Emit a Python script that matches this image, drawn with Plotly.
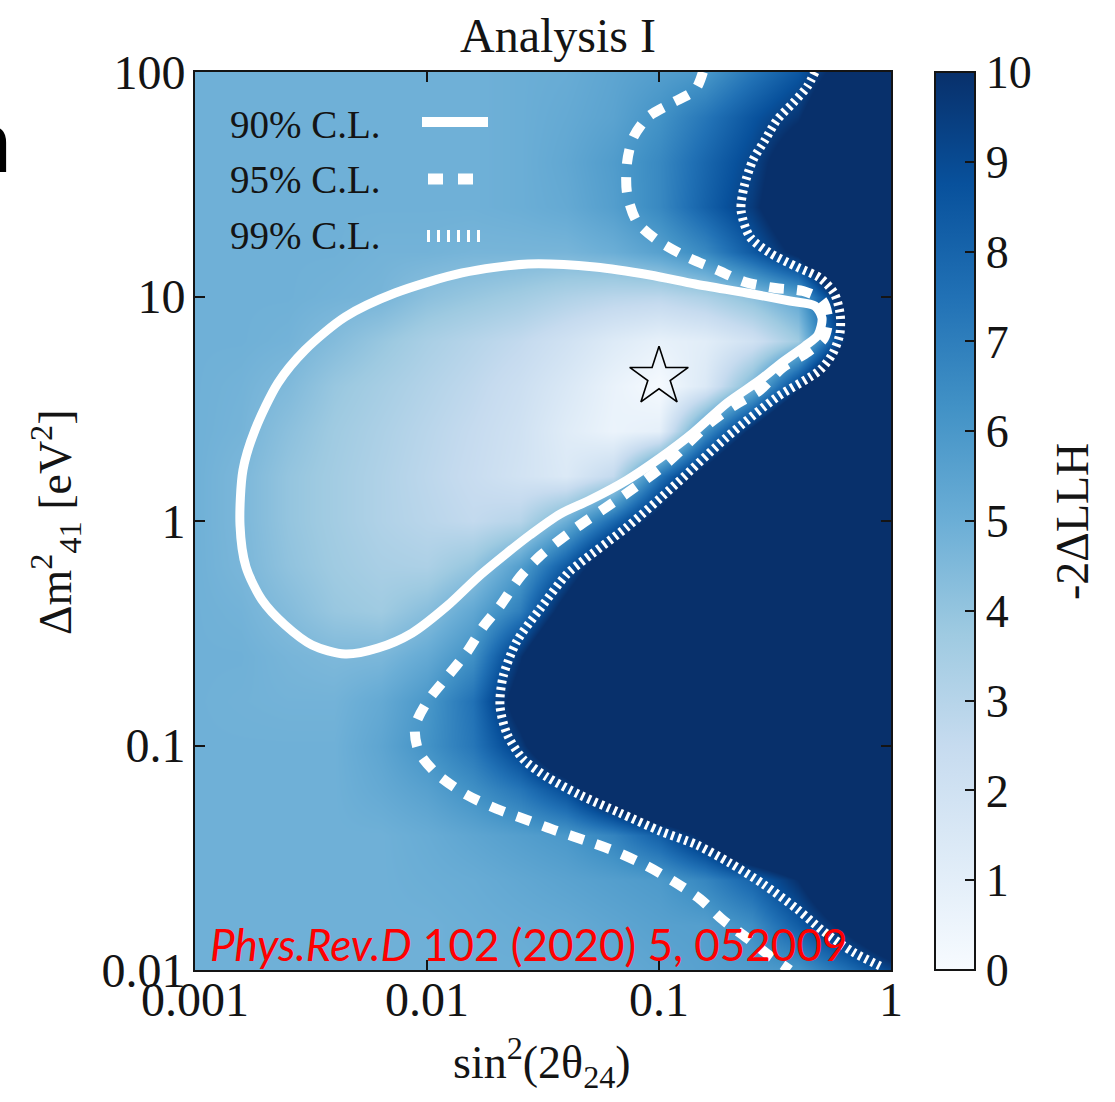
import plotly.graph_objects as go

# ---------------- data ----------------
# grid of the -2ΔLLH map (0.2-decade steps)
sin2_grid = [0.001, 0.001585, 0.002512, 0.003981, 0.00631, 0.01, 0.01585, 0.02512,
             0.03981, 0.0631, 0.1, 0.1585, 0.2512, 0.3981, 0.631, 1.0]
dm2_grid = [100, 63.1, 39.81, 25.12, 15.85, 10, 6.31, 3.981, 2.512, 1.585, 1,
            0.631, 0.3981, 0.2512, 0.1585, 0.1, 0.0631, 0.03981, 0.02512, 0.01585, 0.01]

llh = [
    [4.9, 4.9, 4.9, 4.9, 4.9, 4.9, 4.9, 5.0, 5.1, 5.4, 5.7, 6.0, 7.3, 8.5, 11, 14],
    [4.9, 4.9, 4.9, 4.9, 4.9, 4.9, 4.9, 5.0, 5.2, 5.5, 6.2, 7.3, 8.6, 9.8, 13, 15],
    [4.9, 4.9, 4.9, 4.9, 4.9, 4.9, 4.9, 5.0, 5.3, 5.8, 6.6, 7.9, 9.2, 11.5, 15, 15],
    [4.9, 4.9, 4.9, 4.9, 4.9, 4.9, 4.9, 5.0, 5.2, 5.7, 6.6, 8.1, 9.6, 12, 15, 15],
    [4.9, 4.9, 4.9, 4.9, 4.8, 4.8, 4.7, 4.7, 4.7, 5.0, 5.6, 6.6, 8.4, 10.5, 15, 15],
    [4.9, 4.9, 4.9, 4.8, 4.7, 4.2, 3.9, 3.6, 3.2, 2.9, 2.8, 3.3, 4.2, 5.4, 11, 15],
    [4.9, 4.9, 4.8, 4.4, 3.9, 3.4, 3.0, 2.6, 2.0, 1.3, 0.8, 1.1, 2.0, 3.7, 10, 15],
    [4.9, 4.8, 4.5, 3.9, 3.5, 3.1, 2.7, 2.2, 1.5, 0.7, 0.1, 1.4, 4.7, 9.4, 15, 15],
    [4.9, 4.75, 4.2, 3.7, 3.3, 2.9, 2.5, 2.0, 1.2, 0.6, 0.9, 6.3, 10.5, 15, 15, 15],
    [4.9, 4.6, 4.0, 3.6, 3.2, 2.8, 2.4, 1.9, 1.4, 2.6, 7.3, 11, 15, 15, 15, 15],
    [4.9, 4.6, 4.0, 3.6, 3.2, 2.9, 2.6, 3.0, 5.0, 7.8, 11, 15, 15, 15, 15, 15],
    [4.9, 4.65, 4.1, 3.7, 3.4, 3.3, 4.0, 5.7, 8.4, 12, 15, 15, 15, 15, 15, 15],
    [4.9, 4.8, 4.4, 3.9, 3.7, 4.3, 5.3, 7.0, 11, 15, 15, 15, 15, 15, 15, 15],
    [4.9, 4.9, 4.7, 4.55, 4.6, 5.2, 6.3, 9.8, 14, 15, 15, 15, 15, 15, 15, 15],
    [4.9, 4.85, 4.8, 4.8, 5.2, 6.0, 7.5, 11, 15, 15, 15, 15, 15, 15, 15, 15],
    [4.9, 4.9, 4.9, 4.9, 5.4, 6.2, 7.3, 9.5, 13, 15, 15, 15, 15, 15, 15, 15],
    [4.9, 4.9, 4.9, 4.9, 5.2, 5.6, 6.3, 7.3, 8.9, 12, 15, 15, 15, 15, 15, 15],
    [4.9, 4.9, 4.9, 4.9, 4.9, 5.1, 5.4, 5.7, 6.0, 6.8, 8.2, 10.5, 14, 15, 15, 15],
    [4.9, 4.9, 4.9, 4.9, 4.9, 5.0, 5.1, 5.3, 5.5, 5.7, 5.9, 6.7, 8.0, 10, 13, 15],
    [4.9, 4.9, 4.9, 4.9, 4.9, 4.9, 5.0, 5.1, 5.2, 5.4, 5.6, 5.7, 6.4, 8.3, 10.5, 13],
    [4.9, 4.9, 4.9, 4.9, 4.9, 4.9, 5.0, 5.0, 5.1, 5.2, 5.4, 5.6, 5.8, 6.1, 7.5, 9.2],
]

# 90% C.L. contour (closed)
cl90_sin2 = [0.001563, 0.00161, 0.001814, 0.002279, 0.00298, 0.004432, 0.007279, 0.01416,
             0.02725, 0.05298, 0.09145, 0.1430, 0.2394, 0.3670, 0.4703, 0.5042, 0.4845,
             0.4259, 0.3323, 0.2725, 0.1964, 0.1401, 0.1010, 0.07279, 0.05042, 0.03743,
             0.02780, 0.02213, 0.01659, 0.01220, 0.008616, 0.006150, 0.004432, 0.003194,
             0.002443, 0.001945, 0.001659, 0.001563]
cl90_dm2 = [0.9598, 1.687, 2.543, 4.119, 5.777, 8.103, 10.36, 12.73, 13.96, 13.53, 12.47,
            11.37, 10.36, 9.549, 9.071, 8.020, 6.739, 6.019, 5.004, 4.248, 3.354, 2.466,
            1.909, 1.522, 1.240, 1.074, 0.8662, 0.7204, 0.5630, 0.4182, 0.3170, 0.2719,
            0.2556, 0.2804, 0.3441, 0.4447, 0.6240, 0.9598]

# 95% C.L. contour
cl95_sin2 = [0.1547, 0.1430, 0.1138, 0.08965, 0.07726, 0.07279, 0.07279, 0.08039, 0.09803,
             0.1320, 0.1778, 0.2347, 0.3162, 0.4175, 0.5042, 0.5352, 0.5144, 0.4388, 0.3390,
             0.2725, 0.2126, 0.1659, 0.1083, 0.07279, 0.04259, 0.03069, 0.02517, 0.02064,
             0.01743, 0.01487, 0.01220, 0.01, 0.008878, 0.009237, 0.01104, 0.01487, 0.02003,
             0.02698, 0.03633, 0.04894, 0.06592, 0.08877, 0.1149, 0.1502, 0.1887, 0.2394,
             0.3009, 0.3670]
cl95_dm2 = [100, 83.15, 72.75, 63.03, 50.82, 39.32, 28.91, 21.47, 17.85, 14.99, 13.13, 11.60,
            10.91, 10.58, 9.647, 8.020, 6.535, 5.660, 4.803, 3.833, 3.286, 2.733, 1.813,
            1.332, 0.9118, 0.6986, 0.5630, 0.4182, 0.3372, 0.2609, 0.2019, 0.1562, 0.1209,
            0.09356, 0.07464, 0.06019, 0.05215, 0.04658, 0.04161, 0.03755, 0.03354, 0.02905,
            0.02491, 0.02072, 0.01670, 0.01389, 0.01154, 0.01]

# 99% C.L. contour
cl99_sin2 = [0.4703, 0.4344, 0.3781, 0.3226, 0.2864, 0.2542, 0.2325, 0.2257, 0.2467, 0.3009,
             0.3934, 0.4943, 0.5680, 0.6028, 0.6028, 0.5623, 0.4943, 0.3226, 0.1964, 0.1196,
             0.07279, 0.04564, 0.04012, 0.03069, 0.02443, 0.02126, 0.02064, 0.02213, 0.02593,
             0.03291, 0.04564, 0.06791, 0.1010, 0.1458, 0.2023, 0.2807, 0.3934, 0.5092,
             0.6858, 0.8965]
cl99_dm2 = [100, 85.74, 72.75, 61.12, 49.79, 40.55, 30.74, 24.28, 18.41, 15.62, 13.53, 12.09,
            10.36, 8.442, 6.878, 5.602, 4.705, 3.566, 2.367, 1.476, 0.9403, 0.6501, 0.5806,
            0.4055, 0.2920, 0.2019, 0.1499, 0.1125, 0.08708, 0.07238, 0.06019, 0.05005,
            0.04161, 0.03604, 0.02996, 0.02416, 0.01869, 0.01492, 0.01203, 0.01042]

best_fit_sin2 = [0.1]
best_fit_dm2 = [4.38]

x_tickvals = [0.001, 0.01, 0.1, 1]
x_ticktext = ["0.001", "0.01", "0.1", "1"]
y_tickvals = [0.01, 0.1, 1, 10, 100]
y_ticktext = ["0.01", "0.1", "1", "10", "100"]
cbar_ticks = list(range(0, 11))

legend_labels = ["90% C.L.", "95% C.L.", "99% C.L."]

# ---------------- styling ----------------
SERIF = "Liberation Serif"
INK = "#141414"
blues = ['#f7fbff', '#deebf7', '#c6dbef', '#9ecae1', '#6baed6',
         '#4292c6', '#2171b5', '#08519c', '#08306b']
cscale = [[i / 8, c] for i, c in enumerate(blues)]

W, H = 1115, 1102
L, R, T, B = 195, 224, 72, 132
PW, PH = W - L - R, H - T - B


def px(xpix):
    return (xpix - L) / PW


def py(ypix):
    return (H - B - ypix) / PH


fig = go.Figure()

fig.add_trace(go.Heatmap(
    x=sin2_grid, y=dm2_grid, z=llh, zmin=0, zmax=10, zsmooth="best",
    colorscale=cscale, hoverinfo="skip",
    colorbar=dict(
        x=px(935), xanchor="left", xpad=0, ypad=0, y=0.5, yanchor="middle",
        len=1, lenmode="fraction", thickness=40, thicknessmode="pixels",
        tickvals=cbar_ticks, ticktext=[str(t) for t in cbar_ticks],
        ticks="inside", ticklen=11, tickwidth=2, tickcolor=INK,
        outlinewidth=2, outlinecolor=INK,
        tickfont=dict(family=SERIF, size=46, color=INK),
    ),
))

line_styles = [
    (cl90_sin2, cl90_dm2, "solid", 9),
    (cl95_sin2, cl95_dm2, "15px,13px", 10),
    (cl99_sin2, cl99_dm2, "3px,4px", 9),
]
for xs, ys, dash, w in line_styles:
    fig.add_trace(go.Scatter(
        x=xs, y=ys, mode="lines", hoverinfo="skip", showlegend=False,
        line=dict(color="white", width=w, dash=dash, shape="spline", smoothing=0.8),
    ))

fig.add_trace(go.Scatter(
    x=best_fit_sin2, y=best_fit_dm2, mode="markers", hoverinfo="skip", showlegend=False,
    marker=dict(symbol="star-open", size=44, color="black", line=dict(width=1.6, color="black")),
))

axis_common = dict(
    type="log", ticks="inside", ticklen=10, tickwidth=2, tickcolor=INK,
    showline=True, linecolor=INK, linewidth=2, mirror="ticks", showgrid=False,
    zeroline=False, tickfont=dict(family=SERIF, size=48, color=INK),
)
fig.update_xaxes(range=[-3, 0], tickvals=x_tickvals, ticktext=x_ticktext,
                 ticklabelstandoff=-14, **axis_common)
fig.update_yaxes(range=[-2, 2], tickvals=y_tickvals, ticktext=y_ticktext,
                 ticklabelstandoff=-2, **axis_common)

annotations = [
    dict(text="Analysis I", x=px(558), y=py(35), xanchor="center", yanchor="middle",
         font=dict(family=SERIF, size=48, color=INK)),
    dict(text="sin<sup>2</sup>(2θ<sub>24</sub>)", x=px(542), y=py(1062), xanchor="center",
         yanchor="middle", font=dict(family=SERIF, size=46, color=INK)),
    dict(text="Δm<sup>2</sup><sub>41</sub> [eV<sup>2</sup>]", x=px(55), y=py(522), textangle=-90,
         xanchor="center", yanchor="middle", font=dict(family=SERIF, size=46, color=INK)),
    dict(text="-2ΔLLH", x=px(1072), y=py(522), textangle=-90, xanchor="center",
         yanchor="middle", font=dict(family=SERIF, size=46, color=INK)),
    dict(text="<i>Phys.Rev.D</i> 102 (2020) 5, 052009", x=px(208), y=py(944),
         xanchor="left", yanchor="middle", font=dict(family="Lato", size=44, color="#ff0000")),
    dict(text="n", x=px(14), y=py(139), xanchor="right", yanchor="middle", borderpad=0,
         font=dict(family="Noto Sans", size=84, color="black")),
]
legend_y = [125, 180, 235]
for lab, yy in zip(legend_labels, legend_y):
    annotations.append(dict(text=lab, x=px(228), y=py(yy), xanchor="left", yanchor="middle",
                            font=dict(family=SERIF, size=39, color=INK)))
for a in annotations:
    a.update(xref="paper", yref="paper", showarrow=False)

shapes = [
    dict(type="line", x0=px(422), x1=px(488), y0=py(122), y1=py(122),
         line=dict(color="white", width=10)),
    dict(type="line", x0=px(428), x1=px(475), y0=py(179), y1=py(179),
         line=dict(color="white", width=11, dash="15px,15px")),
    dict(type="line", x0=px(427), x1=px(484), y0=py(236), y1=py(236),
         line=dict(color="white", width=12, dash="3px,7px")),
]
for s in shapes:
    s.update(xref="paper", yref="paper")

fig.update_layout(
    width=W, height=H, autosize=False,
    margin=dict(l=L, r=R, t=T, b=B, pad=0),
    paper_bgcolor="white", plot_bgcolor="white",
    showlegend=False, annotations=annotations, shapes=shapes,
)

fig.write_html("out.html")
